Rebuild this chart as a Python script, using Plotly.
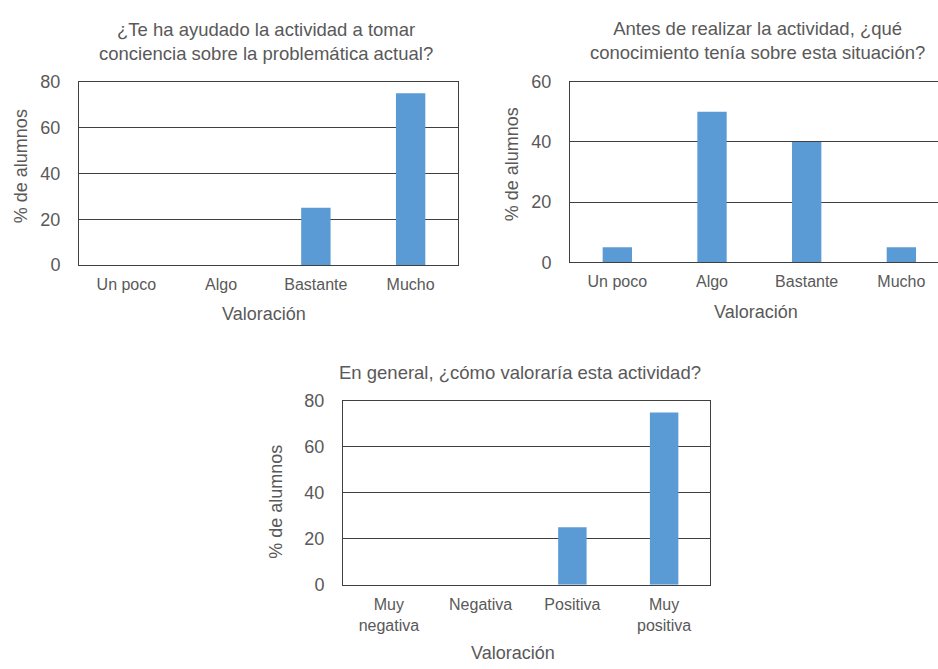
import plotly.graph_objects as go

# --- data -------------------------------------------------------------
cats_scale = ["Un poco", "Algo", "Bastante", "Mucho"]
conciencia_pct = [0, 0, 25, 75]
conocimiento_pct = [5, 50, 40, 5]

cats_valor = ["Muy<br>negativa", "Negativa", "Positiva", "Muy<br>positiva"]
valoracion_pct = [0, 0, 25, 75]

titles = [
    "¿Te ha ayudado la actividad a tomar<br>conciencia sobre la problemática actual?",
    "Antes de realizar la actividad, ¿qué<br>conocimiento tenía sobre esta situación?",
    "En general, ¿cómo valoraría esta actividad?",
]
y_title = "% de alumnos"
x_title = "Valoración"

# --- layout helpers (pixel -> paper) ----------------------------------
W, H = 938, 669
FONT = "Liberation Sans, Arial, sans-serif"
TXT = "#595959"
BAR = "#5B9BD5"
LINE = "#404040"


def px(x):
    return x / W


def py(y):
    return 1 - y / H


fig = go.Figure()

panels = [
    # categories, values, x-domain px, y-domain px (top, bottom), y max, x range, right frame line
    (cats_scale, conciencia_pct, (79, 458), (74, 263), 80, [-0.5, 3.5], True),
    (cats_scale, conocimiento_pct, (570, 938), (74, 260), 60, [-0.5, 3.387], False),
    (cats_valor, valoracion_pct, (343, 710), (403, 592.5), 80, [-0.5, 3.5], True),
]

for i, (cats, vals, (x0, x1), (yt, yb), ymax, xr, right_line) in enumerate(panels, start=1):
    sfx = "" if i == 1 else str(i)
    fig.add_trace(go.Bar(
        x=cats, y=vals, width=0.31,
        marker=dict(color=BAR, line=dict(width=0)),
        xaxis="x" + sfx, yaxis="y" + sfx,
        showlegend=False, hoverinfo="x+y",
    ))
    fig.layout["xaxis" + sfx] = dict(
        domain=[px(x0), px(x1)], anchor="y" + sfx,
        type="category", range=xr,
        showline=True, linecolor=LINE, linewidth=1, mirror=True,
        showgrid=False, ticks="", ticklabelstandoff=5,
        tickfont=dict(family=FONT, size=16, color=TXT),
        fixedrange=True,
    )
    fig.layout["yaxis" + sfx] = dict(
        domain=[py(yb), py(yt)], anchor="x" + sfx,
        range=[0, ymax], dtick=20,
        showline=True, linecolor=LINE, linewidth=1,
        mirror=True if right_line else False,
        showgrid=True, gridcolor=LINE, gridwidth=1,
        zeroline=False, ticks="", ticklabelstandoff=14,
        tickfont=dict(family=FONT, size=18, color=TXT),
        fixedrange=True,
    )

annotations = []

# chart titles
for text, (cx, cy) in zip(titles, [(266, 32), (757, 31), (520, 374)]):
    annotations.append(dict(
        text=text, x=px(cx), y=py(cy), xref="paper", yref="paper",
        xanchor="center", yanchor="middle", showarrow=False,
        font=dict(family=FONT, size=18.5, color=TXT),
    ))

# y-axis titles
for cx, cy in [(21, 161), (512, 159), (276, 507)]:
    annotations.append(dict(
        text=y_title, x=px(cx), y=py(cy), xref="paper", yref="paper",
        xanchor="center", yanchor="middle", textangle=-90, showarrow=False,
        font=dict(family=FONT, size=18, color=TXT),
    ))

# x-axis titles
for cx, cy in [(264, 313), (756, 311), (513, 663)]:
    annotations.append(dict(
        text=x_title, x=px(cx), y=py(cy), xref="paper", yref="paper",
        xanchor="center", yanchor="middle", showarrow=False,
        font=dict(family=FONT, size=18, color=TXT),
    ))

fig.update_layout(
    width=W, height=H, autosize=False,
    margin=dict(l=0, r=0, t=0, b=0, pad=0),
    paper_bgcolor="white", plot_bgcolor="white",
    font=dict(family=FONT, color=TXT),
    annotations=annotations,
)

fig.write_html("out.html", config={"displayModeBar": False})
